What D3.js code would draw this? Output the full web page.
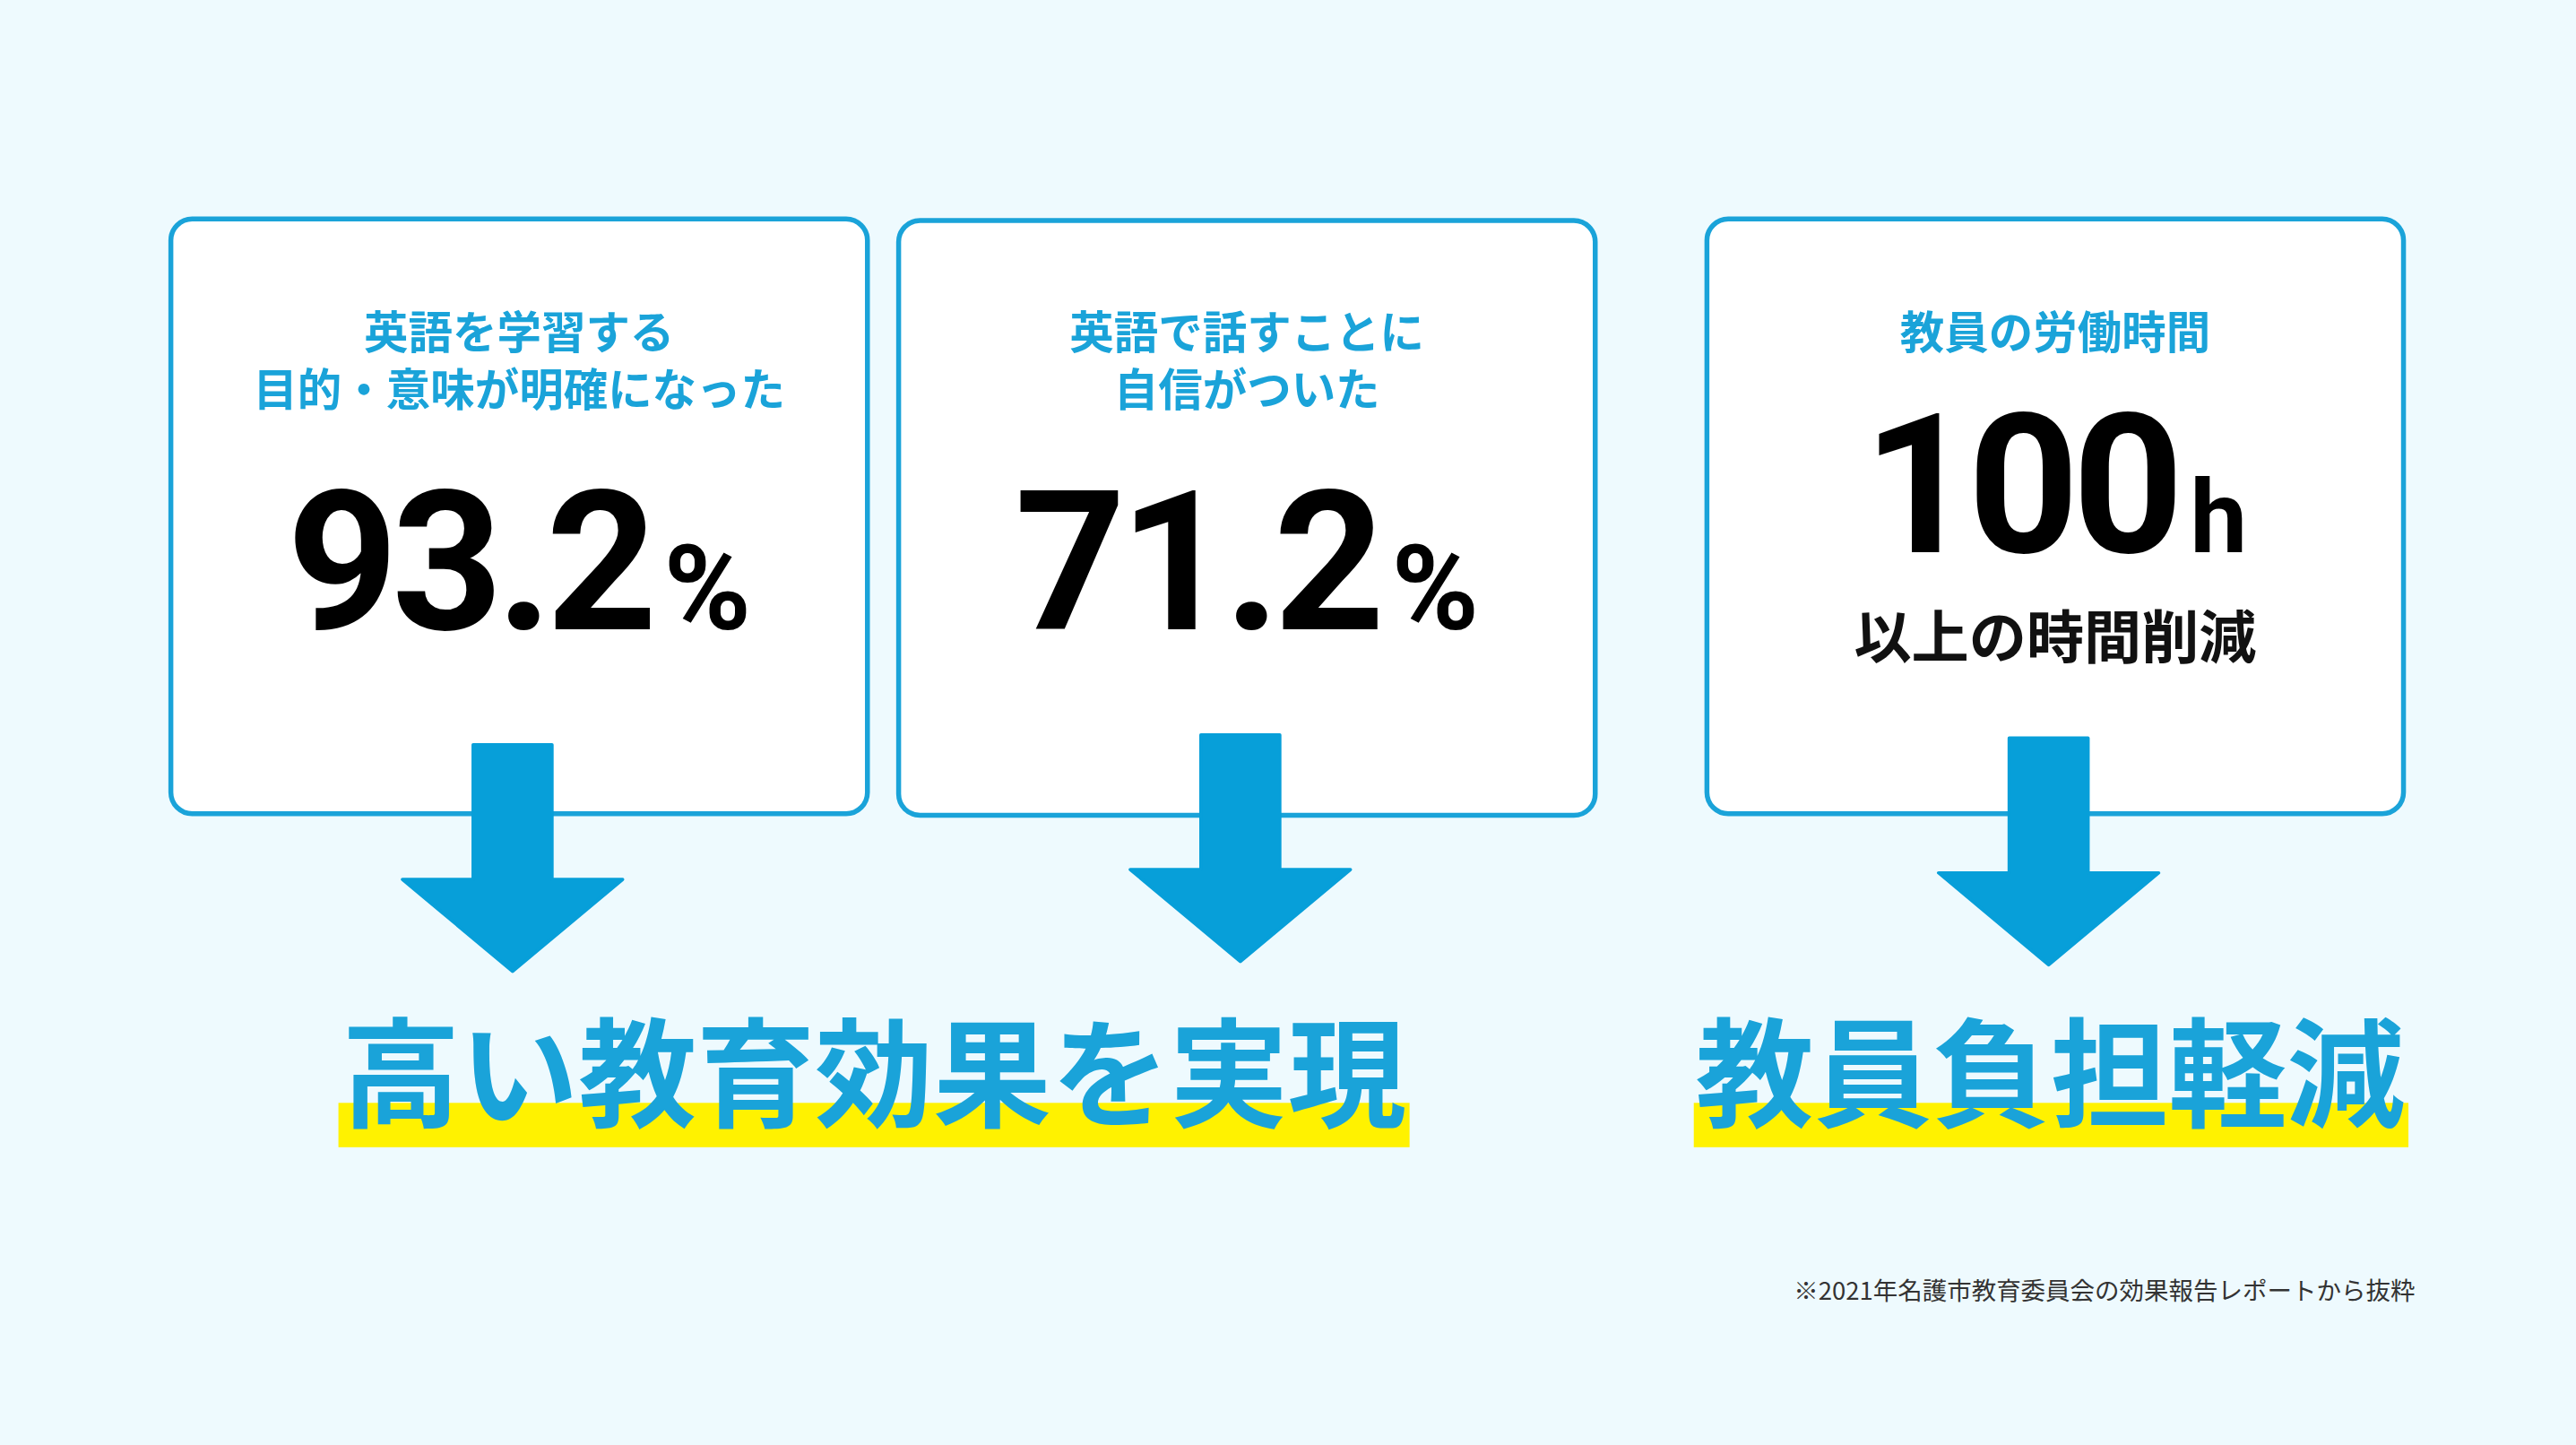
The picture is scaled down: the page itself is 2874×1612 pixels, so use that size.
<!DOCTYPE html>
<html><head><meta charset="utf-8">
<script src="https://cdn.jsdelivr.net/npm/d3@7"></script>
<style>
body{margin:0;background:#eefafe;}
svg{display:block;font-family:"Noto Sans CJK JP","Noto Sans",sans-serif;}
</style></head>
<body><div id="chart"></div>
<script>
var titles = [["英語を学習する", "目的・意味が明確になった"], ["英語で話すことに", "自信がついた"], ["教員の労働時間"]]
var values = ["93.2", "71.2", "100"]
var units = ["%", "%", "h"]
var notes = ["", "", "以上の時間削減"]
var results = ["高い教育効果を実現", "教員負担軽減"]
var footnote = "※2021年名護市教育委員会の効果報告レポートから抜粋"

var W = 1568, H = 879
var blue = '#1aa3d9', arrowBlue = '#079fd9'

var svg = d3.select('#chart').append('svg')
    .attr('width', 2874).attr('height', 1612)
    .attr('viewBox', '0 0 ' + W + ' ' + H)

svg.append('rect').attr('width', W).attr('height', H).attr('fill', '#eefafe')

var cardX = [104, 547, 1039]
var cardY = [133, 134, 133]
var arrowTop = [453, 447, 449]

var cards = svg.selectAll('g.card')
    .data(d3.range(3))
    .enter().append('g').attr('class', 'card')

cards.append('rect')
    .attr('x', function(i) { return cardX[i] })
    .attr('y', function(i) { return cardY[i] })
    .attr('width', 424).attr('height', 362)
    .attr('rx', 13)
    .attr('fill', '#fff')
    .attr('stroke', blue).attr('stroke-width', 3)

cards.each(function(i) {
    var g = d3.select(this)
    var cx = cardX[i] + 212
    titles[i].forEach(function(t, k) {
        g.append('text').attr('x', cx).attr('y', 212 + k * 35)
            .attr('text-anchor', 'middle').attr('font-size', 27).attr('font-weight', 700)
            .attr('fill', blue).text(t)
    })
    var big = g.append('text').attr('x', cx).attr('y', i == 2 ? 336 : 383)
        .attr('text-anchor', 'middle').attr('font-family', 'Roboto, sans-serif')
        .attr('font-weight', 700).attr('fill', '#000')
    big.append('tspan').attr('font-size', 118).attr('letter-spacing', -4).text(values[i])
    big.append('tspan').attr('font-size', i == 2 ? 62 : 72).attr('dx', 8).text(units[i])
    if (notes[i]) {
        g.append('text').attr('x', cx).attr('y', 400)
            .attr('text-anchor', 'middle').attr('font-size', 35).attr('font-weight', 700)
            .attr('fill', '#111').text(notes[i])
    }
    // arrow
    var ax = cardX[i] + 208
    var top = arrowTop[i]
    var p = d3.path()
    p.moveTo(ax - 24, top); p.lineTo(ax + 24, top); p.lineTo(ax + 24, top + 82)
    p.lineTo(ax + 67, top + 82); p.lineTo(ax, top + 138); p.lineTo(ax - 67, top + 82)
    p.lineTo(ax - 24, top + 82); p.closePath()
    g.append('path').attr('d', p.toString()).attr('fill', arrowBlue)
        .attr('stroke', arrowBlue).attr('stroke-width', 2).attr('stroke-linejoin', 'round')
})

var resX = [532, 1248]
var hl = [[206, 858], [1031, 1466]]
var res = svg.selectAll('g.res').data(results).enter().append('g').attr('class', 'res')
res.append('rect')
    .attr('x', function(d, i) { return hl[i][0] })
    .attr('width', function(d, i) { return hl[i][1] - hl[i][0] })
    .attr('y', 671).attr('height', 27).attr('fill', '#fff200')
res.append('text')
    .attr('x', function(d, i) { return resX[i] })
    .attr('y', 680).attr('text-anchor', 'middle')
    .attr('font-size', 72).attr('font-weight', 700).attr('fill', blue)
    .text(function(d) { return d })

svg.append('text').attr('x', 1470).attr('y', 791).attr('text-anchor', 'end')
    .attr('font-size', 15).attr('fill', '#333').text(footnote)
</script></body></html>
